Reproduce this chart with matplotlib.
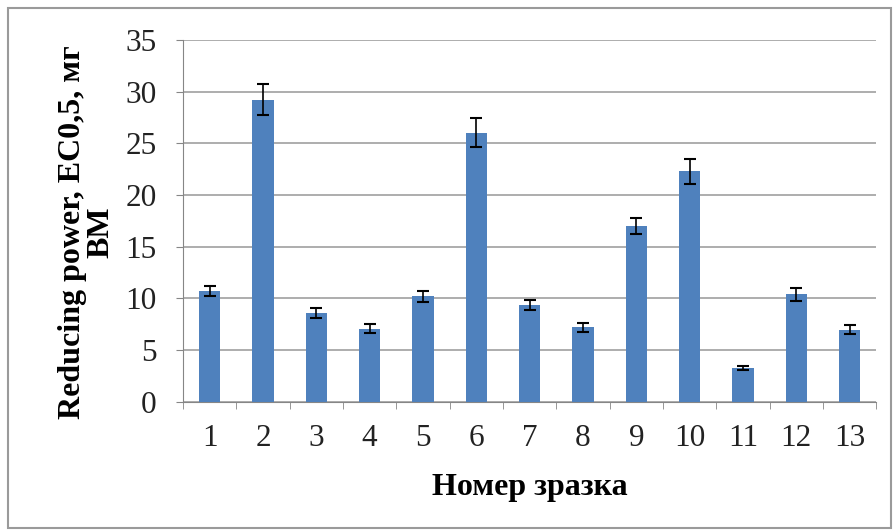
import matplotlib.pyplot as plt
from matplotlib.patches import Rectangle
import numpy as np

# data
samples = ["1", "2", "3", "4", "5", "6", "7", "8", "9", "10", "11", "12", "13"]
values = [10.7, 29.2, 8.6, 7.1, 10.2, 26.0, 9.4, 7.2, 17.0, 22.3, 3.3, 10.4, 7.0]
errors = [0.5, 1.5, 0.5, 0.4, 0.5, 1.4, 0.5, 0.4, 0.8, 1.2, 0.2, 0.6, 0.4]
y_ticks = [0, 5, 10, 15, 20, 25, 30, 35]

plt.rcParams["font.family"] = ["Liberation Serif", "DejaVu Serif"]

fig = plt.figure(figsize=(8.95, 5.31), dpi=100)
fig.patches.append(Rectangle((8 / 895, 3 / 531), 883 / 895, 520 / 531,
                             transform=fig.transFigure, fill=False,
                             edgecolor="#9a9a9a", linewidth=1.5))
ax = fig.add_axes([0.2045, 0.243, 0.7745, 0.682])

x = np.arange(1, len(samples) + 1)
ax.bar(x, values, width=0.4, color="#4f81bd", zorder=3)
ax.errorbar(x, values, yerr=errors, fmt="none", ecolor="black",
            elinewidth=1.2, capsize=4, capthick=1.5, zorder=4)

ax.set_xlim(0.5, len(samples) + 0.5)
ax.set_ylim(0, 35)
ax.set_yticks(y_ticks)
ax.set_xticks(x)
ax.set_xticklabels(samples)
ax.set_xticks(np.arange(0.5, len(samples) + 1, 1), minor=True)
ax.tick_params(axis="x", which="major", length=0, labelsize=22.5, pad=16)
ax.tick_params(axis="x", which="minor", length=5, color="#868686")
ax.tick_params(axis="y", length=5, color="#868686", labelsize=22.5, pad=14,
               labelcolor="#222222")
ax.tick_params(axis="x", labelcolor="#222222")

ax.grid(axis="y", color="#a0a0a0", linewidth=1.2, zorder=0)
for side in ["top", "right"]:
    ax.spines[side].set_visible(False)
for side in ["left", "bottom"]:
    ax.spines[side].set_color("#868686")

ax.set_xlabel("Номер зразка", fontsize=23, fontweight="bold", labelpad=14)
ax.set_ylabel("Reducing power, EC0,5, мг\nВМ", fontsize=23,
              fontweight="bold", linespacing=0.95)
ax.yaxis.set_label_coords(-0.098, 0.47)

fig.savefig("out.png", dpi=100, facecolor="white")
